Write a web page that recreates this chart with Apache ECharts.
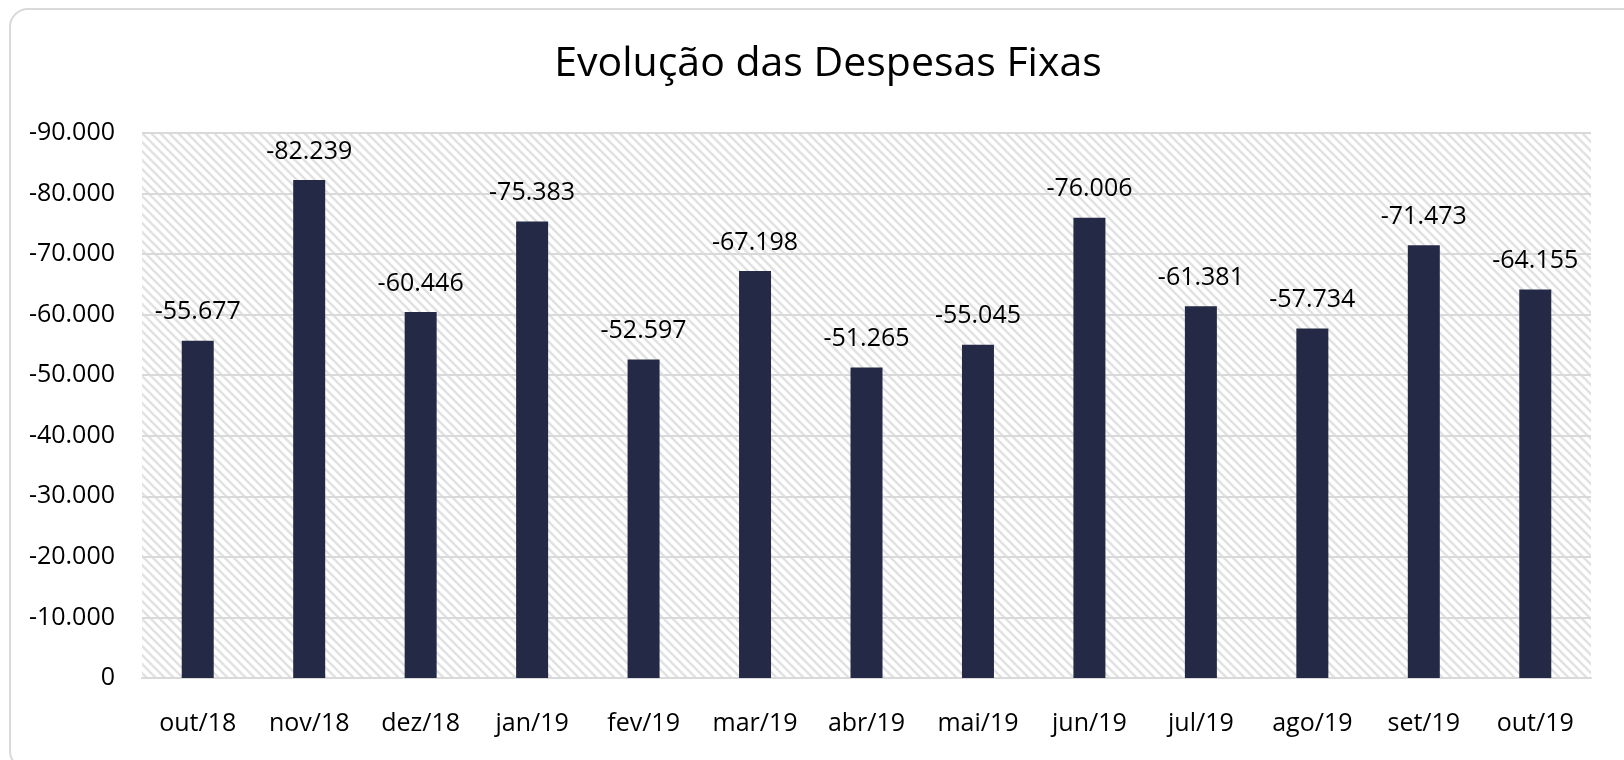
<!DOCTYPE html>
<html>
<head>
<meta charset="utf-8">
<title>Evolução das Despesas Fixas</title>
<script src="https://cdn.jsdelivr.net/npm/echarts@6/dist/echarts.min.js"></script>
<style>
  html, body { margin: 0; padding: 0; background: #fff; }
  #chart { width: 1624px; height: 760px; }
</style>
</head>
<body>
<div id="chart"></div>
<script>
// dados
var meses = ['out/18', 'nov/18', 'dez/18', 'jan/19', 'fev/19', 'mar/19', 'abr/19',
             'mai/19', 'jun/19', 'jul/19', 'ago/19', 'set/19', 'out/19'];
var despesas = [-55677, -82239, -60446, -75383, -52597, -67198, -51265,
                -55045, -76006, -61381, -57734, -71473, -64155];
var yMin = -90000, yMax = 0, yStep = 10000;

var fonte = '"Open Sans", "Noto Sans", sans-serif';

// formato pt-BR: separador de milhar "."
function fmt(v) {
    var s = Math.abs(Math.round(v)).toString().replace(/\B(?=(\d{3})+(?!\d))/g, '.');
    return (v < 0 ? '-' : '') + s;
}

// hachura diagonal do fundo do gráfico
function hachura() {
    var p = 9;
    var c = document.createElement('canvas');
    c.width = p; c.height = p;
    var ctx = c.getContext('2d');
    ctx.fillStyle = '#ffffff';
    ctx.fillRect(0, 0, p, p);
    ctx.strokeStyle = '#e2e2e2';
    ctx.lineWidth = 2.6;
    for (var k = -1; k <= 1; k++) {
        ctx.beginPath();
        ctx.moveTo(k * p - 2, -2);
        ctx.lineTo(k * p + p + 2, p + 2);
        ctx.stroke();
    }
    return c;
}

var myChart = echarts.init(document.getElementById('chart'));
var option = {
    backgroundColor: '#ffffff',
    animation: false,
    title: {
        text: 'Evolução das Despesas Fixas',
        left: 823,
        textAlign: 'center',
        top: 39,
        textStyle: { fontFamily: fonte, fontSize: 41, fontWeight: 'normal', color: '#000' }
    },
    graphic: [{
        type: 'rect',
        z: -10,
        shape: { x: 10, y: 9, width: 1660, height: 760, r: 18 },
        style: { fill: 'none', stroke: '#d9d9d9', lineWidth: 2 }
    }],
    grid: {
        left: 142, right: 33, top: 133, bottom: 82,
        show: true,
        borderWidth: 0,
        backgroundColor: { image: hachura(), repeat: 'repeat' }
    },
    xAxis: [{
        type: 'category',
        data: meses,
        axisLine: { lineStyle: { color: '#d9d9d9', width: 2 } },
        axisTick: { length: 10, lineStyle: { color: '#d9d9d9', width: 2 } },
        axisLabel: { fontFamily: fonte, fontSize: 25, color: '#000', margin: 33 }
    }, {
        type: 'category',
        data: meses,
        position: 'bottom',
        axisLine: { show: false },
        axisTick: { inside: true, length: 7, lineStyle: { color: '#d9d9d9', width: 2 } },
        axisLabel: { show: false }
    }],
    yAxis: {
        type: 'value',
        inverse: true,
        min: yMin, max: yMax, interval: yStep,
        axisLine: { show: false },
        axisTick: { show: false },
        splitLine: { lineStyle: { color: '#d9d9d9', width: 2 } },
        axisLabel: { fontFamily: fonte, fontSize: 25, color: '#000', margin: 27, formatter: fmt }
    },
    series: [{
        name: 'Despesas Fixas',
        type: 'bar',
        xAxisIndex: 0,
        data: despesas,
        barWidth: 32,
        itemStyle: { color: '#242a45' },
        label: {
            show: true,
            position: 'top',
            distance: 16,
            fontFamily: fonte,
            fontSize: 25,
            color: '#000',
            formatter: function (p) { return fmt(p.value); }
        }
    }]
};
myChart.setOption(option);
</script>
</body>
</html>
